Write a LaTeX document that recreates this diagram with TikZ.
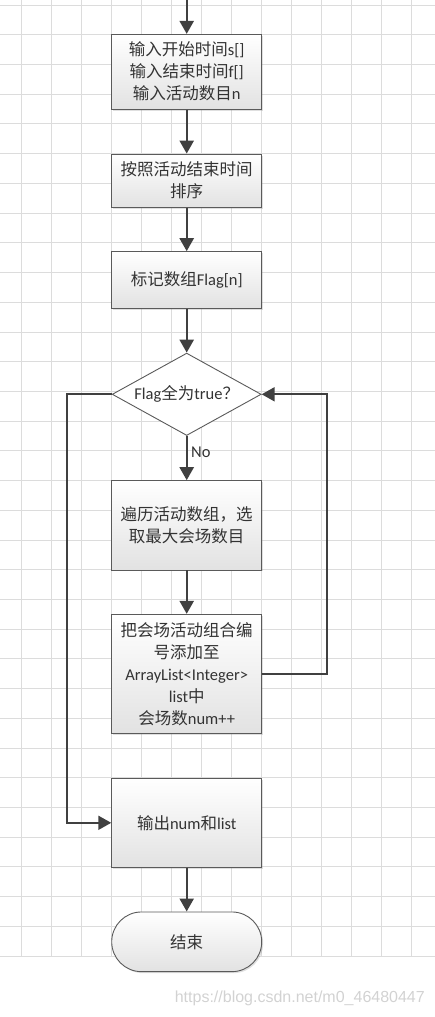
\documentclass[tikz,border=0pt]{standalone}
\usepackage{fontspec}
\setmainfont{Carlito}
\newfontfamily\cjk{Noto Sans CJK SC}
\newfontfamily\markfont{Liberation Sans}
\usetikzlibrary{shapes.geometric, arrows.meta, shadows}
\definecolor{GridGray}{HTML}{DCDCDC}
\definecolor{LineGray}{HTML}{404040}
\definecolor{EdgeGray}{HTML}{5A5A5A}
\definecolor{FillGray}{HTML}{E2E2E2}
\definecolor{TextGray}{HTML}{333333}
\definecolor{MarkGray}{HTML}{D2D2D2}

\begin{document}
\begin{tikzpicture}[x=1pt, y=-1pt,
    procbox/.style={rectangle, draw=EdgeGray, line width=0.9pt, top color=white, bottom color=FillGray,
        minimum width=150pt, inner sep=0pt, align=center, text=TextGray, font=\fontsize{16.5}{22}\selectfont,
        drop shadow={shadow xshift=1.5pt, shadow yshift=-1.5pt, opacity=0.25}},
    decision/.style={diamond, aspect=1.8, draw=EdgeGray, line width=0.9pt, fill=white,
        minimum width=149pt, minimum height=82.4pt, inner sep=0pt, text=TextGray, font=\fontsize{16.5}{22}\selectfont},
    endbox/.style={procbox, rounded corners=29.8pt},
    flow/.style={draw=LineGray, line width=2.4pt, -{Triangle[width=14pt,length=13pt]}},
    loopline/.style={flow, line width=2pt}]
        \useasboundingbox (0,0) rectangle (435,1017);

        % Grid
        \foreach \gx in {0,...,13}
            \draw[GridGray, line width=0.8pt] ({21.7+30*\gx},0) -- ({21.7+30*\gx},956);
        \foreach \gy in {0,...,32}
            \draw[GridGray, line width=0.8pt] (0,{5+29.72*\gy}) -- (435,{5+29.72*\gy});

        % Nodes
        \coordinate (top) at (186.7,0);
        \node[procbox, minimum height=74.7pt] (input) at (186.7,71.7)
            {{\cjk 输入开始时间}s[]\\{\cjk 输入结束时间}f[]\\{\cjk 输入活动数目}n};
        \node[procbox, minimum height=53.3pt] (sort) at (186.7,180.7)
            {{\cjk 按照活动结束时间}\\{\cjk 排序}};
        \node[procbox, minimum height=56.7pt] (mark) at (186.7,280)
            {{\cjk 标记数组}Flag[n]};
        \node[decision] (check) at (186.7,394.3) {Flag{\cjk 全为}true{\cjk ？}};
        \node[procbox, minimum height=89.3pt] (pick) at (186.7,525.3)
            {{\cjk 遍历活动数组，选}\\{\cjk 取最大会场数目}};
        \node[procbox, minimum height=119pt] (store) at (186.7,673.8)
            {{\cjk 把会场活动组合编}\\{\cjk 号添加至}\\ArrayList<Integer>\\list{\cjk 中}\\{\cjk 会场数}num++};
        \node[procbox, minimum height=89pt] (output) at (186.7,822.8)
            {{\cjk 输出}num{\cjk 和}list};
        \node[endbox, minimum height=59.7pt] (finish) at (186.7,941.8) {{\cjk 结束}};
        \coordinate (rloop) at (327.3,394.3);
        \coordinate (lloop) at (66.7,394.3);

        % Connectors
        \draw[flow] (top) -- (input.north);
        \draw[flow] (input.south) -- (sort.north);
        \draw[flow] (sort.south) -- (mark.north);
        \draw[flow] (mark.south) -- (check.north);
        \draw[flow] (check.south) -- node[right, pos=0.36, text=TextGray, font=\fontsize{16.5}{22}\selectfont] {No} (pick.north);
        \draw[flow] (pick.south) -- (store.north);
        \draw[loopline] (store.east) -| (rloop) -- (check.east);
        \draw[loopline] (check.west) -- (lloop) |- (output.west);
        \draw[flow] (output.south) -- (finish.north);

        % Watermark
        \node[anchor=east, inner sep=0pt, text=MarkGray, font=\markfont\fontsize{16}{18}\selectfont] (mark-url) at (425,998)
            {https://blog.csdn.net/m0\_46480447};
    \end{tikzpicture}
\end{document}
